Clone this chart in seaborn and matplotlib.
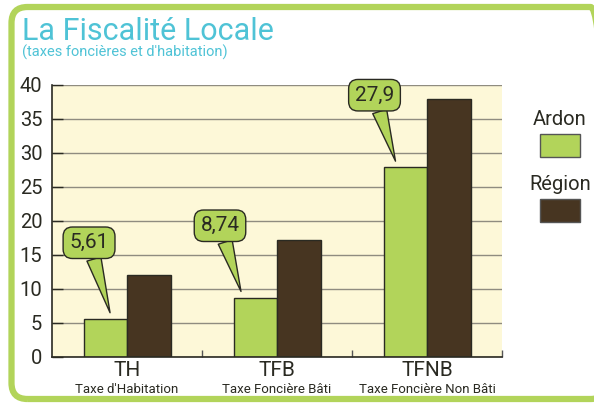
import matplotlib.pyplot as plt
import pandas as pd
import seaborn as sns
from matplotlib.patches import FancyBboxPatch, Rectangle

CATEGORIES = ["TH", "TFB", "TFNB"]
SUBLABELS = ["Taxe d'Habitation", "Taxe Foncière Bâti", "Taxe Foncière Non Bâti"]
ARDON = [5.61, 8.74, 27.9]
REGION = [12.1, 17.2, 38.0]
CALLOUTS = ["5,61", "8,74", "27,9"]
SERIES = ["Ardon", "Région"]

GREEN = "#b2d45a"
BROWN = "#473521"
DARK = "#2a2a22"
CYAN = "#4fc3d6"
PANEL = "#fdf8d8"

sns.set_theme(style="white")
plt.rcParams["font.family"] = ["Roboto", "DejaVu Sans"]

df = pd.DataFrame({
    "tax": CATEGORIES * 2,
    "zone": [SERIES[0]] * 3 + [SERIES[1]] * 3,
    "value": ARDON + REGION,
})

fig = plt.figure(figsize=(5.94, 4.03), dpi=100)
ax = fig.add_axes([52 / 594, 46 / 403, 450 / 594, 272 / 403])
ax.set_facecolor(PANEL)

sns.barplot(
    data=df, x="tax", y="value", hue="zone", order=CATEGORIES, hue_order=SERIES,
    palette=[GREEN, BROWN], saturation=1, width=0.58, edgecolor=DARK, linewidth=1,
    legend=False, ax=ax, zorder=2,
)

ax.set_xlim(-0.5, 2.5)
ax.set_ylim(0, 40)
ax.set_yticks(range(0, 41, 5))
ax.yaxis.grid(True, color="#8f8c80", linewidth=1)
ax.set_axisbelow(True)
ax.tick_params(axis="y", direction="in", length=8, width=1, color=DARK,
               labelsize=14.5, pad=7, labelcolor=DARK, left=True)
ax.set_xticks(range(3))
ax.set_xticklabels(CATEGORIES, fontsize=15, color=DARK)
ax.tick_params(axis="x", length=0, pad=3)
ax.set_xticks([0.5, 1.5, 2.5], minor=True)
ax.tick_params(axis="x", which="minor", direction="in", length=5, color="#555", bottom=True)
ax.set_xlabel("")
ax.set_ylabel("")
for s in ["top", "right"]:
    ax.spines[s].set_visible(False)
for s in ["left", "bottom"]:
    ax.spines[s].set_color(DARK)
    ax.spines[s].set_linewidth(1.2)

for i, sub in enumerate(SUBLABELS):
    ax.text(i, -0.118, sub, transform=ax.get_xaxis_transform(), ha="center",
            va="center", fontsize=9.5, color=DARK)

# callout bubbles: box centre offsets and tip offsets relative to the category
box_pos = [(-0.253, 16.8), (-0.38, 19.3), (-0.35, 38.5)]
tip_dx = [-0.113, -0.24, -0.21]
for i, (label, val) in enumerate(zip(CALLOUTS, ARDON)):
    bx, by = box_pos[i]
    ax.annotate(
        label, xy=(i + tip_dx[i], val + 0.9), xytext=(i + bx, by),
        ha="center", va="center", fontsize=15, color=DARK, zorder=5,
        annotation_clip=False,
        bbox=dict(boxstyle="round,pad=0.3,rounding_size=0.45", fc=GREEN, ec=DARK, lw=1),
        arrowprops=dict(arrowstyle="wedge,tail_width=0.7,shrink_factor=0.5",
                        fc=GREEN, ec=DARK, lw=1, shrinkA=0, shrinkB=0),
    )

# title
fig.text(22 / 594, 1 - 40 / 403, "La Fiscalité Locale", fontsize=22, color=CYAN, va="baseline")
fig.text(22 / 594, 1 - 57 / 403, "(taxes foncières et d'habitation)", fontsize=10.5,
         color=CYAN, va="baseline")

# legend
for j, (name, col) in enumerate(zip(SERIES, [GREEN, BROWN])):
    cy = 120 + j * 65
    fig.text(560 / 594, 1 - cy / 403, name, fontsize=14.5, color=DARK, ha="center", va="center")
    fig.patches.append(Rectangle((540 / 594, 1 - (cy + 37) / 403), 40 / 594, 23 / 403,
                                 transform=fig.transFigure, fc=col, ec="#555", lw=1))

# rounded frame (inches)
fig.patches.append(FancyBboxPatch((0.115, 0.04), 5.95, 3.92,
                                  boxstyle="round,pad=0,rounding_size=0.16",
                                  transform=fig.dpi_scale_trans, fill=False,
                                  ec=GREEN, lw=4.5, zorder=0))

fig.savefig("out.png", dpi=100)
